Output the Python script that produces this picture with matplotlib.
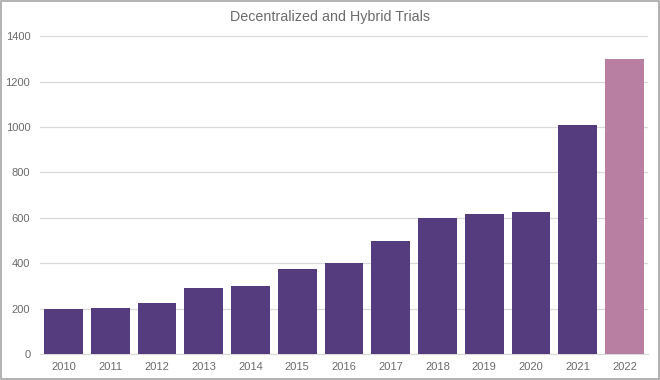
import matplotlib
matplotlib.use("Agg")
import matplotlib.pyplot as plt
import matplotlib.patches as mpatches

years = ["2010", "2011", "2012", "2013", "2014", "2015", "2016",
         "2017", "2018", "2019", "2020", "2021", "2022"]
trials = [198, 202, 224, 290, 298, 375, 400, 497, 600, 617, 625, 1010, 1300]
bar_colors = ["#553c7f"] * 12 + ["#b97fa2"]

plt.rcParams["font.family"] = ["Liberation Sans", "DejaVu Sans"]

fig = plt.figure(figsize=(6.6, 3.8), dpi=100)
ax = fig.add_axes([40 / 660, 0.0684, 608 / 660, 0.8366])

x = range(len(years))
ax.bar(x, trials, width=0.83, color=bar_colors, zorder=3)

ax.set_xlim(-0.5, len(years) - 0.5)
ax.set_ylim(0, 1400)
ax.set_yticks(range(0, 1401, 200))
ax.set_xticks(list(x))
ax.set_xticklabels(years)
ax.yaxis.grid(True, color="#d9d9d9", linewidth=0.9, zorder=0)
for s in ["top", "right", "left"]:
    ax.spines[s].set_visible(False)
ax.spines["bottom"].set_color("#d9d9d9")
ax.tick_params(axis="both", length=0, colors="#6b6b6b", labelsize=8)
ax.tick_params(axis="x", pad=6)
ax.tick_params(axis="y", pad=7)

fig.text(0.5, 0.955, "Decentralized and Hybrid Trials", ha="center", va="center",
         fontsize=10.3, color="#6b6b6b")

# grey frame round the chart
fig.patches.append(mpatches.Rectangle((0.001, 0.002), 0.997, 0.995, transform=fig.transFigure,
                                      fill=False, edgecolor="#a6a6a6", linewidth=1.2))

fig.savefig("out.png", dpi=100)
